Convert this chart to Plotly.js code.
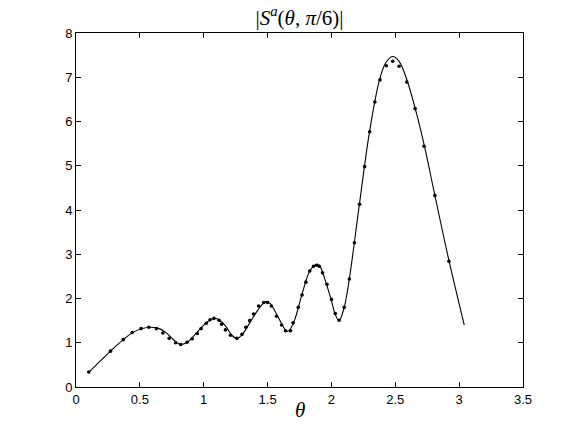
<!DOCTYPE html>
<html>
<head>
<meta charset="utf-8">
<script src="https://cdn.plot.ly/plotly-3.0.1.min.js"></script>
<style>html,body{margin:0;padding:0;background:#fff;}#chart{width:579px;height:436px;}</style>
</head>
<body>
<div id="chart"></div>
<script>
// Smooth (exact) curve
var curveTheta = [0.10, 0.27, 0.37, 0.45, 0.52, 0.58, 0.64, 0.70, 0.76, 0.82, 0.87, 0.94, 1.00, 1.06, 1.09, 1.12, 1.17, 1.22, 1.26, 1.30, 1.36, 1.42, 1.47, 1.49, 1.52, 1.57, 1.62, 1.65, 1.67, 1.71, 1.77, 1.83, 1.87, 1.89, 1.91, 1.96, 2.00, 2.03, 2.06, 2.10, 2.14, 2.22, 2.30, 2.38, 2.43, 2.48, 2.53, 2.59, 2.66, 2.73, 2.81, 2.92, 3.04];
var curveS = [0.33, 0.81, 1.07, 1.24, 1.32, 1.35, 1.33, 1.24, 1.08, 0.96, 1.01, 1.21, 1.40, 1.53, 1.555, 1.52, 1.38, 1.17, 1.10, 1.18, 1.45, 1.72, 1.90, 1.93, 1.89, 1.65, 1.38, 1.26, 1.28, 1.50, 2.10, 2.62, 2.75, 2.77, 2.73, 2.33, 1.95, 1.64, 1.50, 1.80, 2.44, 4.15, 5.80, 6.98, 7.35, 7.47, 7.36, 6.95, 6.25, 5.42, 4.33, 2.86, 1.40];
// Numerical sample points
var pointTheta = [0.10, 0.27, 0.37, 0.44, 0.51, 0.57, 0.63, 0.68, 0.73, 0.78, 0.82, 0.87, 0.91, 0.95, 0.98, 1.02, 1.05, 1.08, 1.12, 1.14, 1.17, 1.21, 1.26, 1.30, 1.33, 1.36, 1.39, 1.43, 1.47, 1.50, 1.53, 1.57, 1.61, 1.64, 1.68, 1.70, 1.74, 1.77, 1.80, 1.83, 1.86, 1.885, 1.905, 1.93, 1.965, 2.00, 2.03, 2.06, 2.10, 2.14, 2.18, 2.22, 2.26, 2.30, 2.34, 2.38, 2.43, 2.48, 2.53, 2.59, 2.655, 2.725, 2.81, 2.92];
var pointS = [0.34, 0.81, 1.07, 1.23, 1.32, 1.35, 1.32, 1.22, 1.10, 1.00, 0.96, 1.01, 1.09, 1.21, 1.32, 1.44, 1.52, 1.55, 1.51, 1.42, 1.29, 1.17, 1.10, 1.19, 1.35, 1.50, 1.65, 1.83, 1.91, 1.91, 1.83, 1.60, 1.40, 1.27, 1.27, 1.45, 1.80, 2.08, 2.37, 2.62, 2.73, 2.75, 2.73, 2.58, 2.32, 1.98, 1.66, 1.51, 1.80, 2.44, 3.26, 4.13, 4.98, 5.77, 6.44, 6.94, 7.26, 7.36, 7.25, 6.89, 6.29, 5.44, 4.33, 2.84];
var xTicks = [0, 0.5, 1, 1.5, 2, 2.5, 3, 3.5];
var xTickText = ['0', '0.5', '1', '1.5', '2', '2.5', '3', '3.5'];
var yTicks = [0, 1, 2, 3, 4, 5, 6, 7, 8];
var yTickText = ['0', '1', '2', '3', '4', '5', '6', '7', '8'];

var traces = [
  {x: curveTheta, y: curveS, type: 'scatter', mode: 'lines',
   line: {color: '#000', width: 1.1, shape: 'spline', smoothing: 1.0}, hoverinfo: 'skip'},
  {x: pointTheta, y: pointS, type: 'scatter', mode: 'markers',
   marker: {color: '#000', size: 3.6}}
];
var axisCommon = {
  showgrid: false, zeroline: false, showline: true, mirror: 'ticks',
  linecolor: '#000', linewidth: 1, ticks: 'inside', ticklen: 5, tickcolor: '#000',
  tickfont: {family: 'Liberation Sans, Arial, sans-serif', size: 13, color: '#000'}
};
var layout = {
  width: 579, height: 436,
  margin: {l: 76, r: 56, t: 33, b: 49},
  paper_bgcolor: '#fff', plot_bgcolor: '#fff',
  showlegend: false,
  title: {text: '|<i>S</i><sup><i>a</i></sup>(<i>θ</i>, <i>π</i>/6)|',
          font: {family: 'Liberation Serif, DejaVu Serif, serif', size: 21, color: '#000'},
          x: 0.5, xref: 'paper', y: 0.96, yref: 'container', yanchor: 'middle', automargin: false},
  xaxis: Object.assign({}, axisCommon, {range: [0, 3.5], tickvals: xTicks, ticktext: xTickText}),
  yaxis: Object.assign({}, axisCommon, {range: [0, 8], tickvals: yTicks, ticktext: yTickText}),
  annotations: [{text: '<i>θ</i>', xref: 'paper', yref: 'paper', x: 0.502, y: -0.025,
    xanchor: 'center', yanchor: 'top', showarrow: false,
    font: {family: 'Liberation Serif, DejaVu Serif, serif', size: 21, color: '#000'}}]
};
Plotly.newPlot('chart', traces, layout, {staticPlot: true});
</script>
</body>
</html>
